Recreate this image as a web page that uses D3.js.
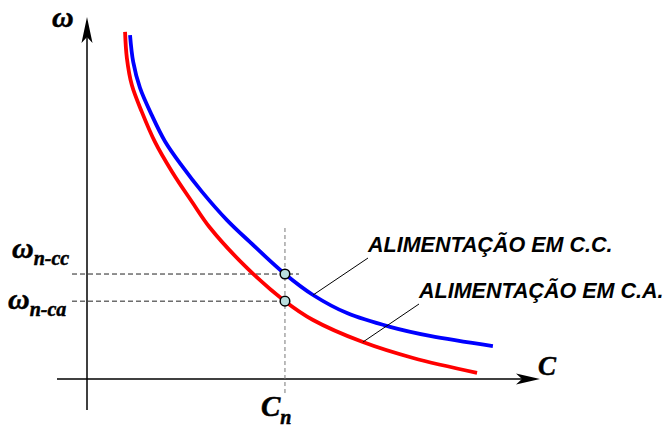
<!DOCTYPE html>
<html>
<head>
<meta charset="utf-8">
<script src="https://cdn.jsdelivr.net/npm/d3@7"></script>
<style>
  html, body { margin: 0; padding: 0; background: #fff; }
  .serif { font-family: 'Liberation Serif', 'Times New Roman', serif; font-weight: bold; font-style: italic; stroke: #000; stroke-width: 0.5px; }
  .sans { font-family: 'Liberation Sans', Arial, sans-serif; font-weight: bold; font-style: italic; }
</style>
</head>
<body>
<div id="chart"></div>
<script>
'use strict';

// Curves (C, omega) in arbitrary units
var curveCC = [
  [0.95, 9.50], [1.02, 8.76], [1.17, 8.04], [1.43, 7.29], [1.72, 6.57],
  [2.10, 5.88], [2.54, 5.17], [3.09, 4.39], [3.60, 3.78], [4.37, 2.90],
  [4.99, 2.32], [5.74, 1.82], [6.69, 1.44], [7.57, 1.19], [8.96, 0.91]
];
var curveCA = [
  [0.84, 9.59], [0.88, 8.87], [0.99, 8.12], [1.21, 7.38], [1.50, 6.55],
  [1.88, 5.72], [2.32, 4.89], [2.72, 4.17], [3.53, 3.07], [4.37, 2.15],
  [4.99, 1.63], [6.09, 1.02], [7.20, 0.58], [8.61, 0.17]
];
var nominalC = 4.37;
var nominalW = [2.90, 2.15];      // n-cc, n-ca
var nominalLabels = ['n-cc', 'n-ca'];
var seriesLabels = ['ALIMENTAÇÃO EM C.C.', 'ALIMENTAÇÃO EM C.A.'];
var leaderEnds = [[4.99, 2.32], [6.09, 1.02]];

var width = 664, height = 429;
var svg = d3.select('#chart').append('svg')
  .attr('width', width)
  .attr('height', height);

var x = d3.scaleLinear().domain([0, 10]).range([87, 540]);
var y = d3.scaleLinear().domain([0, 10]).range([379, 17]);

// Axes
svg.append('line')
  .attr('x1', x(0) - 30).attr('y1', y(0))
  .attr('x2', x(10) - 6).attr('y2', y(0))
  .attr('stroke', '#000').attr('stroke-width', 1.5);
svg.append('line')
  .attr('x1', x(0)).attr('y1', y(0) + 31)
  .attr('x2', x(0)).attr('y2', y(10) + 6)
  .attr('stroke', '#000').attr('stroke-width', 1.5);

// Notched arrow heads
svg.append('path')
  .attr('d', 'M' + x(10) + ',' + y(0) + 'l-24,-5.5l6,5.5l-6,5.5z')
  .attr('fill', '#000');
svg.append('path')
  .attr('d', 'M' + x(0) + ',' + y(10) + 'l-5.5,26l5.5,-6l5.5,6z')
  .attr('fill', '#000');

svg.append('text').attr('class', 'serif')
  .attr('x', x(10) - 2).attr('y', y(0) - 4)
  .style('font-size', '27px')
  .text('C');
svg.append('text').attr('class', 'serif')
  .attr('x', x(0) - 35).attr('y', 27)
  .style('font-size', '30px')
  .text('ω');

// Guide lines for the nominal point
svg.append('line')
  .attr('x1', x(nominalC)).attr('y1', y(nominalW[0]) - 46)
  .attr('x2', x(nominalC)).attr('y2', y(0) + 16)
  .attr('stroke', '#777').attr('stroke-width', 1)
  .attr('stroke-dasharray', '4,3');
nominalW.forEach(function(w, i) {
  svg.append('line')
    .attr('x1', x(0) - 15).attr('y1', y(w))
    .attr('x2', i === 0 ? x(nominalC) + 14 : x(nominalC) - 4).attr('y2', y(w))
    .attr('stroke', '#222').attr('stroke-width', 1)
    .attr('stroke-dasharray', '5,3');
});

// Curves
var line = d3.line()
  .x(function(d) { return x(d[0]); })
  .y(function(d) { return y(d[1]); })
  .curve(d3.curveCatmullRom.alpha(0.5));

svg.append('path').datum(curveCA)
  .attr('d', line)
  .attr('fill', 'none').attr('stroke', '#ff0000').attr('stroke-width', 3.8);
svg.append('path').datum(curveCC)
  .attr('d', line)
  .attr('fill', 'none').attr('stroke', '#0000ff').attr('stroke-width', 3.8);

// Nominal points
svg.selectAll('circle.nominal')
  .data(nominalW)
  .enter().append('circle')
  .attr('class', 'nominal')
  .attr('cx', x(nominalC))
  .attr('cy', function(d) { return y(d); })
  .attr('r', 4.8)
  .attr('fill', '#b9dede')
  .attr('stroke', '#000').attr('stroke-width', 1.5);

// Left labels: omega with subscript
var labelX = [12, 8];
var labelDy = [-16, 8];
nominalW.forEach(function(w, i) {
  var t = svg.append('text').attr('class', 'serif')
    .attr('x', labelX[i]).attr('y', y(w) + labelDy[i]);
  t.append('tspan').style('font-size', '30px').text('ω');
  t.append('tspan').style('font-size', '20px').attr('dy', 7).text(nominalLabels[i]);
});

// Cn label
var cn = svg.append('text').attr('class', 'serif')
  .attr('x', x(nominalC) - 24).attr('y', 416);
cn.append('tspan').style('font-size', '29px').text('C');
cn.append('tspan').style('font-size', '20px').attr('dy', 8).text('n');

// Series labels with leader lines
var labelPos = [[368, 252], [419, 298]];
seriesLabels.forEach(function(s, i) {
  svg.append('line')
    .attr('x1', labelPos[i][0]).attr('y1', labelPos[i][1] + 6)
    .attr('x2', x(leaderEnds[i][0])).attr('y2', y(leaderEnds[i][1]))
    .attr('stroke', '#000').attr('stroke-width', 1);
  svg.append('text').attr('class', 'sans')
    .attr('x', labelPos[i][0]).attr('y', labelPos[i][1])
    .style('font-size', '21.5px')
    .text(s);
});
</script>
</body>
</html>
